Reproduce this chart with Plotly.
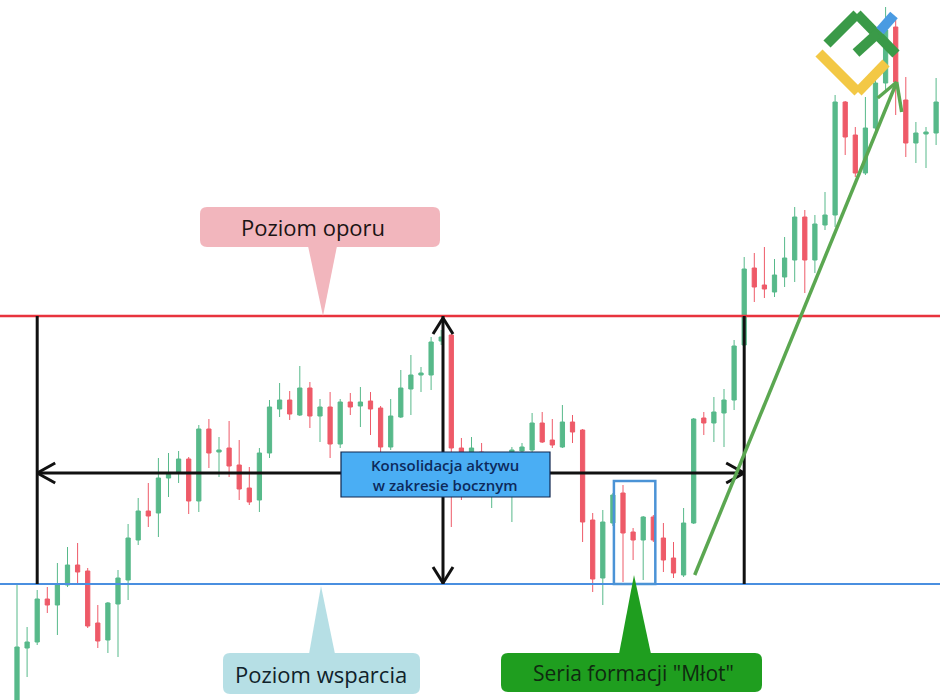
import plotly.graph_objects as go

# ---------------- data (price units) ----------------
opens = [-12, 52, 58, 101, 95, 115, 135, 129, 77, 60, 96, 120, 160, 189, 187, 222, 227, 241, 199, 271,
         248, 252, 235, 212, 200, 247, 291, 300, 285, 312, 284, 293, 256, 298, 294, 299, 292, 253, 283, 311,
         325, 325, 359, 365, 252, 247, 248, 210, 235, 215, 249, 250, 277, 260, 253, 278, 270, 180, 122, 177,
         207, 168, 160, 183, 162, 142, 125, 177, 282, 277, 287, 300, 355, 432, 415, 408, 423, 440, 483, 440,
         475, 485, 598, 565, 527, 572, 617, 673, 600, 557, 566, 567]
highs = [115, 73, 110, 113, 137, 153, 157, 132, 95, 98, 130, 176, 202, 217, 242, 247, 249, 243, 275, 281,
         263, 279, 260, 233, 252, 300, 317, 309, 334, 318, 301, 308, 301, 307, 313, 308, 294, 301, 330, 345,
         333, 363, 370, 366, 262, 263, 257, 240, 242, 253, 257, 287, 288, 281, 295, 285, 271, 187, 190, 207,
         215, 172, 184, 185, 177, 158, 192, 282, 288, 303, 311, 360, 443, 447, 453, 441, 463, 493, 490, 485,
         508, 605, 599, 573, 603, 633, 693, 680, 623, 578, 573, 622]
lows = [-15, 23, 55, 87, 65, 113, 117, 72, 52, 47, 43, 100, 155, 173, 163, 203, 217, 186, 188, 232,
        223, 223, 200, 195, 188, 242, 283, 280, 284, 272, 258, 242, 252, 285, 273, 265, 248, 250, 282, 285,
        308, 310, 355, 173, 200, 240, 222, 192, 205, 178, 247, 248, 257, 252, 252, 257, 158, 108, 95, 174,
        118, 140, 120, 158, 128, 122, 123, 176, 265, 258, 253, 290, 352, 398, 402, 403, 413, 418, 407, 427,
        470, 473, 545, 523, 525, 570, 610, 585, 543, 537, 532, 555]
closes = [53, 58, 101, 95, 115, 135, 128, 74, 59, 97, 122, 162, 189, 184, 222, 227, 241, 199, 271, 247,
          250, 234, 211, 198, 247, 293, 300, 286, 312, 284, 293, 256, 298, 293, 298, 291, 253, 284, 312, 325,
          327, 358, 363, 252, 248, 252, 230, 235, 215, 250, 253, 277, 258, 255, 278, 268, 178, 121, 178, 205,
          167, 160, 183, 160, 140, 127, 177, 281, 277, 288, 300, 354, 431, 413, 411, 425, 442, 483, 440, 476,
          485, 598, 563, 527, 572, 617, 670, 618, 557, 567, 568, 598]
index = list(range(len(opens)))

resistance_level = 384
support_level = 116
range_mid_level = 227
breakout_index = 72
range_start_index = 2
hammer_x = [59.1, 63.2]
hammer_top = 219
trend_start = (67.1, 125)
trend_end = (87.1, 618)

label_resistance = "Poziom oporu"
label_support = "Poziom wsparcia"
label_hammer = "Seria formacji \"Młot\""
label_range = "Konsolidacja aktywu<br>w zakresie bocznym"

# ---------------- pixel helpers for decorations ----------------
X0, DX = 17.0, 10.1
def dx(px):
    return (px - X0) / DX
def dy(py):
    return 700 - py

fig = go.Figure()
fig.add_trace(go.Candlestick(
    x=index, open=opens, high=highs, low=lows, close=closes,
    increasing=dict(line=dict(color="#57b98a", width=1), fillcolor="#57b98a"),
    decreasing=dict(line=dict(color="#ee5a68", width=1), fillcolor="#ee5a68"),
    whiskerwidth=0, hoverinfo="skip", showlegend=False,
))

shapes = []
def line(x0, y0, x1, y1, color, width):
    shapes.append(dict(type="line", xref="x", yref="y", x0=x0, y0=y0, x1=x1, y1=y1,
                       line=dict(color=color, width=width)))

def path(pts_px, fill, lc=None, lw=0):
    d = "M " + " L ".join(f"{dx(a):.4f},{dy(b):.2f}" for a, b in pts_px) + " Z"
    shapes.append(dict(type="path", xref="x", yref="y", path=d, fillcolor=fill,
                       line=dict(color=lc or fill, width=lw)))

def rrect(x0, y0, x1, y1, r, fill, lc=None, lw=0):
    def P(a, b):
        return f"{dx(a):.4f},{dy(b):.2f}"
    d = (f"M {P(x0 + r, y0)} L {P(x1 - r, y0)} Q {P(x1, y0)} {P(x1, y0 + r)} "
         f"L {P(x1, y1 - r)} Q {P(x1, y1)} {P(x1 - r, y1)} L {P(x0 + r, y1)} "
         f"Q {P(x0, y1)} {P(x0, y1 - r)} L {P(x0, y0 + r)} Q {P(x0, y0)} {P(x0 + r, y0)} Z")
    shapes.append(dict(type="path", xref="x", yref="y", path=d, fillcolor=fill,
                       line=dict(color=lc or fill, width=lw)))

xmin, xmax = dx(0), dx(940)

# resistance / support
line(xmin, resistance_level, xmax, resistance_level, "#e8333d", 2.5)
line(xmin, support_level, xmax, support_level, "#4a8fe0", 2.2)

# vertical range borders
black = "#111111"
line(range_start_index, support_level, range_start_index, resistance_level, black, 3)
line(breakout_index, support_level, breakout_index, resistance_level, black, 3)

# horizontal double arrow
xa, xb = range_start_index, breakout_index
line(xa, range_mid_level, xb, range_mid_level, black, 3)
line(xa, range_mid_level, xa + 18 / DX, range_mid_level + 10, black, 3)
line(xa, range_mid_level, xa + 18 / DX, range_mid_level - 10, black, 3)
line(xb, range_mid_level, xb - 18 / DX, range_mid_level + 10, black, 3)
line(xb, range_mid_level, xb - 18 / DX, range_mid_level - 10, black, 3)

# vertical double arrow
xv = dx(443)
line(xv, support_level, xv, resistance_level, black, 3)
line(xv, resistance_level - 2, xv - 10 / DX, resistance_level - 18, black, 3)
line(xv, resistance_level - 2, xv + 10 / DX, resistance_level - 18, black, 3)
line(xv, support_level + 1, xv - 10 / DX, support_level + 17, black, 3)
line(xv, support_level + 1, xv + 10 / DX, support_level + 17, black, 3)

# hammer box
shapes.append(dict(type="rect", xref="x", yref="y", x0=hammer_x[0], x1=hammer_x[1],
                   y0=support_level, y1=hammer_top, line=dict(color="#4b93d6", width=2.5)))

# green trend arrow
g = "#5ba751"
line(trend_start[0], trend_start[1], trend_end[0], trend_end[1], g, 3.5)
line(trend_end[0], trend_end[1], trend_end[0] - 19 / DX, trend_end[1] - 16, g, 3.5)
line(trend_end[0], trend_end[1], trend_end[0] + 5 / DX, trend_end[1] - 30, g, 3.5)

# label boxes and pointers
rrect(200, 207, 440, 247, 7, "#f2b6bd")
path([(308, 246), (337, 246), (323, 316)], "#f2b6bd")
rrect(223, 653, 420, 694, 7, "#b6dfe5")
path([(309, 654), (335, 654), (321, 586)], "#b6dfe5")
rrect(501, 653, 762, 692, 7, "#1f9e1f")
path([(619, 654), (651, 654), (634, 575)], "#1f9e1f")
shapes.append(dict(type="rect", xref="x", yref="y", x0=dx(341), x1=dx(550), y0=dy(452), y1=dy(497),
                   fillcolor="#4aaef4", line=dict(color="#10264f", width=1.2)))

# logo
def seg(p, q, color, w):
    line(dx(p[0]), dy(p[1]), dx(q[0]), dy(q[1]), color, w)
seg((819, 53), (858, 92), "#f3c845", 10)
seg((858, 92), (886, 63), "#f3c845", 10)
seg((827, 44), (857, 14), "#3a9a48", 10)
seg((857, 14), (896, 54), "#3a9a48", 10)
seg((856, 53), (878, 33), "#3a9a48", 10)
seg((880, 31), (894, 15), "#4a9be2", 10)

annotations = [
    dict(x=dx(313), y=dy(227), text=label_resistance, showarrow=False, xref="x", yref="y",
         font=dict(family="Open Sans", size=22, color="#1a1414")),
    dict(x=dx(321), y=dy(674), text=label_support, showarrow=False, xref="x", yref="y",
         font=dict(family="Open Sans", size=22, color="#10222a")),
    dict(x=dx(633), y=dy(673), text=label_hammer, showarrow=False, xref="x", yref="y",
         font=dict(family="Open Sans", size=21, color="#0f2a10")),
    dict(x=dx(445), y=dy(475), text=label_range, showarrow=False, xref="x", yref="y", align="center",
         font=dict(family="Open Sans", size=15, weight=600, color="#0d2a5c")),
]

fig.update_layout(
    width=940, height=700, margin=dict(l=0, r=0, t=0, b=0),
    paper_bgcolor="white", plot_bgcolor="white", showlegend=False,
    xaxis=dict(visible=False, range=[xmin, xmax], rangeslider=dict(visible=False), fixedrange=True),
    yaxis=dict(visible=False, range=[0, 700], fixedrange=True),
    shapes=shapes, annotations=annotations, boxgap=0.4,
)
fig.write_html("out.html")
